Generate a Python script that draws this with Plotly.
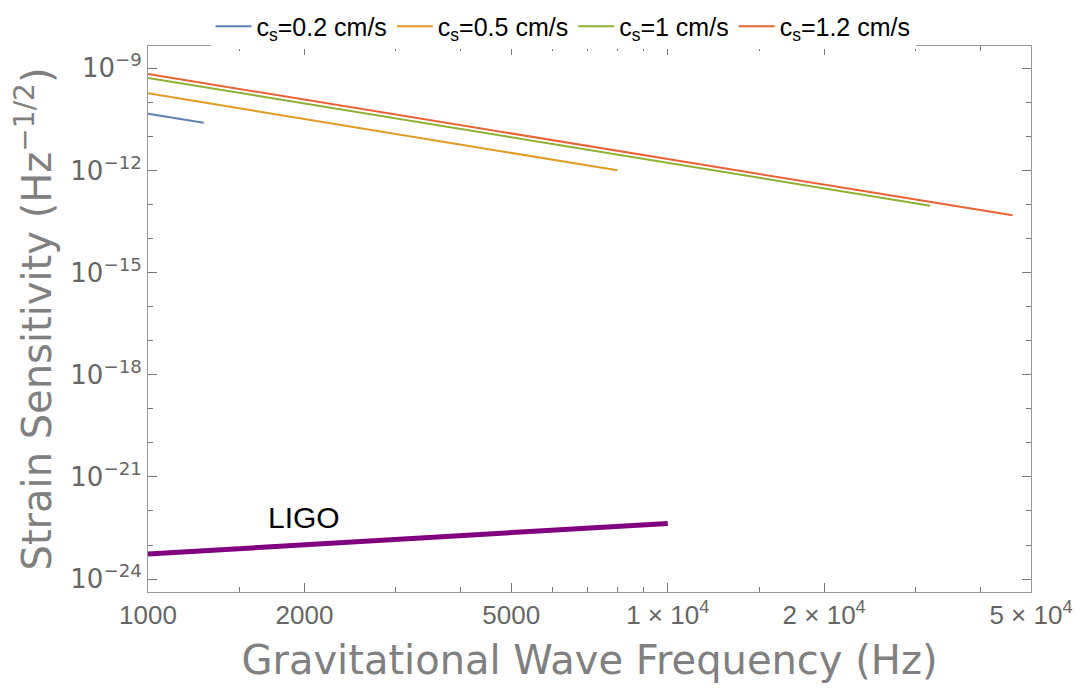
import numpy as np
import plotly.graph_objects as go

# ---- data ----
labels = ["c<sub>s</sub>=0.2 cm/s", "c<sub>s</sub>=0.5 cm/s", "c<sub>s</sub>=1 cm/s", "c<sub>s</sub>=1.2 cm/s"]
colors = ["#5E81B5", "#E19C24", "#8FB032", "#EB6235"]
freq_start = [1000, 1000, 1000, 1000]
freq_end = [1280, 8000, 32000, 46080]
strain_start = [4.6e-11, 1.84e-10, 5.2e-10, 6.8e-10]
strain_end = [2.5e-11, 1.01e-12, 9.2e-14, 4.8e-14]

ligo_freq = [1000, 10000]
ligo_strain = [5.4e-24, 4.3e-23]
ligo_label_pos = (2000, 10 ** -22.2)

x_ticks = [1000, 2000, 5000, 10000, 20000, 50000]
x_ticktext = ["1000", "2000", "5000", "1 \u00d7 10<sup>4</sup>", "2 \u00d7 10<sup>4</sup>", "5 \u00d7 10<sup>4</sup>"]
x_minor = [1500, 3000, 4000, 6000, 7000, 8000, 9000, 15000, 30000, 40000]
y_exps = [-9, -12, -15, -18, -21, -24]
y_minor_exps = [-10, -11, -13, -14, -16, -17, -19, -20, -22, -23]

fig = go.Figure()
for lab, c, f0, f1, s0, s1 in zip(labels, colors, freq_start, freq_end, strain_start, strain_end):
    fig.add_trace(go.Scatter(x=[f0, f1], y=[s0, s1], mode="lines", name=lab,
                             line=dict(color=c, width=2)))

fig.add_trace(go.Scatter(x=ligo_freq, y=ligo_strain, mode="lines", showlegend=False,
                         line=dict(color="#800080", width=5)))

fig.add_annotation(x=np.log10(ligo_label_pos[0]), y=np.log10(ligo_label_pos[1]), text="LIGO",
                   showarrow=False, font=dict(family="Liberation Sans, Arial", size=30, color="black"),
                   xanchor="center", yanchor="middle")

axis_common = dict(showgrid=False, zeroline=False, showline=True, linecolor="#999999", linewidth=1,
                   mirror="allticks", ticks="inside", ticklen=9, tickcolor="#777777", tickwidth=1)

fig.update_xaxes(type="log", range=[3, np.log10(50000)], tickvals=x_ticks, ticktext=x_ticktext,
                 tickfont=dict(family="Liberation Sans, Arial", size=26, color="#666666"),
                 minor=dict(tickvals=x_minor, ticklen=5, tickcolor="#777777", ticks="inside"),
                 title=dict(text="Gravitational Wave Frequency (Hz)",
                            font=dict(family="DejaVu Sans", size=40, color="#808080"), standoff=16),
                 **axis_common)
fig.update_yaxes(type="log", range=[-24.38, -8.345], tickvals=[10.0 ** e for e in y_exps],
                 ticktext=["10<sup>\u2212%d</sup>" % (-e) for e in y_exps],
                 tickfont=dict(family="DejaVu Sans", size=26, color="#666666"),
                 minor=dict(tickvals=[10.0 ** e for e in y_minor_exps], ticklen=5, tickcolor="#777777",
                            ticks="inside"),
                 title=dict(text="Strain Sensitivity (Hz<sup>\u22121/2</sup>)",
                            font=dict(family="DejaVu Sans", size=40, color="#808080"), standoff=6),
                 **axis_common)

fig.update_layout(
    width=1083, height=700, autosize=False,
    margin=dict(l=148, r=52, t=46, b=108, autoexpand=False),
    plot_bgcolor="white", paper_bgcolor="white",
    legend=dict(orientation="h", x=0.47, xanchor="center", y=1.078, yanchor="top",
                font=dict(family="Liberation Sans, Arial", size=25, color="black"),
                itemwidth=36, tracegroupgap=0),
    showlegend=True,
)

fig.write_html("out.html")
